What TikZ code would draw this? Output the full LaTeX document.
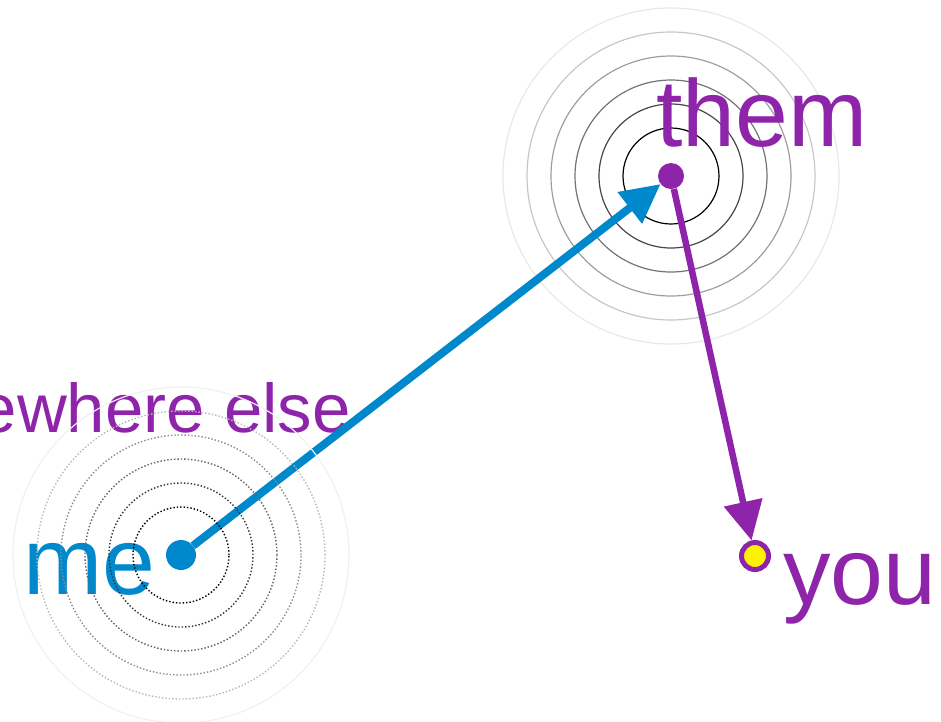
\documentclass[tikz,border=0pt]{standalone}
\usepackage{fontspec}
\setmainfont{Liberation Sans}
\usetikzlibrary{arrows.meta}
\definecolor{meblue}{HTML}{0088CC}
\definecolor{thempurple}{HTML}{8E24AA}
\begin{document}
\begin{tikzpicture}[x=1pt, y=-1pt, >={Triangle[length=39pt, width=38pt]}]
    \tikzstyle{dot}=[circle, inner sep=0pt]
    \tikzstyle{word}=[inner sep=0pt, font=\fontsize{95}{95}\selectfont]
    \useasboundingbox (0,0) rectangle (941,721);
    \foreach \r/\c in {168/9, 144/22, 120/38, 96/55, 72/72, 48/100}
      \draw[black!\c, line width=1.2pt] (671,176) circle (\r pt);
    \node[dot, fill=thempurple, minimum size=26pt] (them) at (671,176) {};
    \node[dot, fill=meblue, minimum size=30pt] (me) at (181,555) {};
    \node[dot, draw=thempurple, fill=yellow, line width=5pt, minimum size=27pt] (you) at (755,556) {};
    \node[word, text=meblue, anchor=base east] (melabel) at (156,594) {me};
    \node[word, text=thempurple, anchor=base west] (themlabel) at (656,146) {them};
    \node[word, text=thempurple, anchor=base west] (youlabel) at (783,604) {you};
    \node[text=thempurple, inner sep=0pt, anchor=base east, font=\fontsize{69}{69}\selectfont] (elsewhere) at (351,432) {somewhere else};
    \draw[->, meblue, line width=8pt] (me) -- (them);
    \draw[->, thempurple, line width=6.5pt] (them) -- (you);
    % dotted rings round me, on top
    \foreach \r/\c in {48/100, 72/80, 96/62, 120/45, 144/28}
      \draw[black!\c, line width=1.4pt, dotted] (me) circle (\r pt);
    \draw[black!6, line width=1.2pt] (me) circle (168pt);
\end{tikzpicture}
\end{document}
